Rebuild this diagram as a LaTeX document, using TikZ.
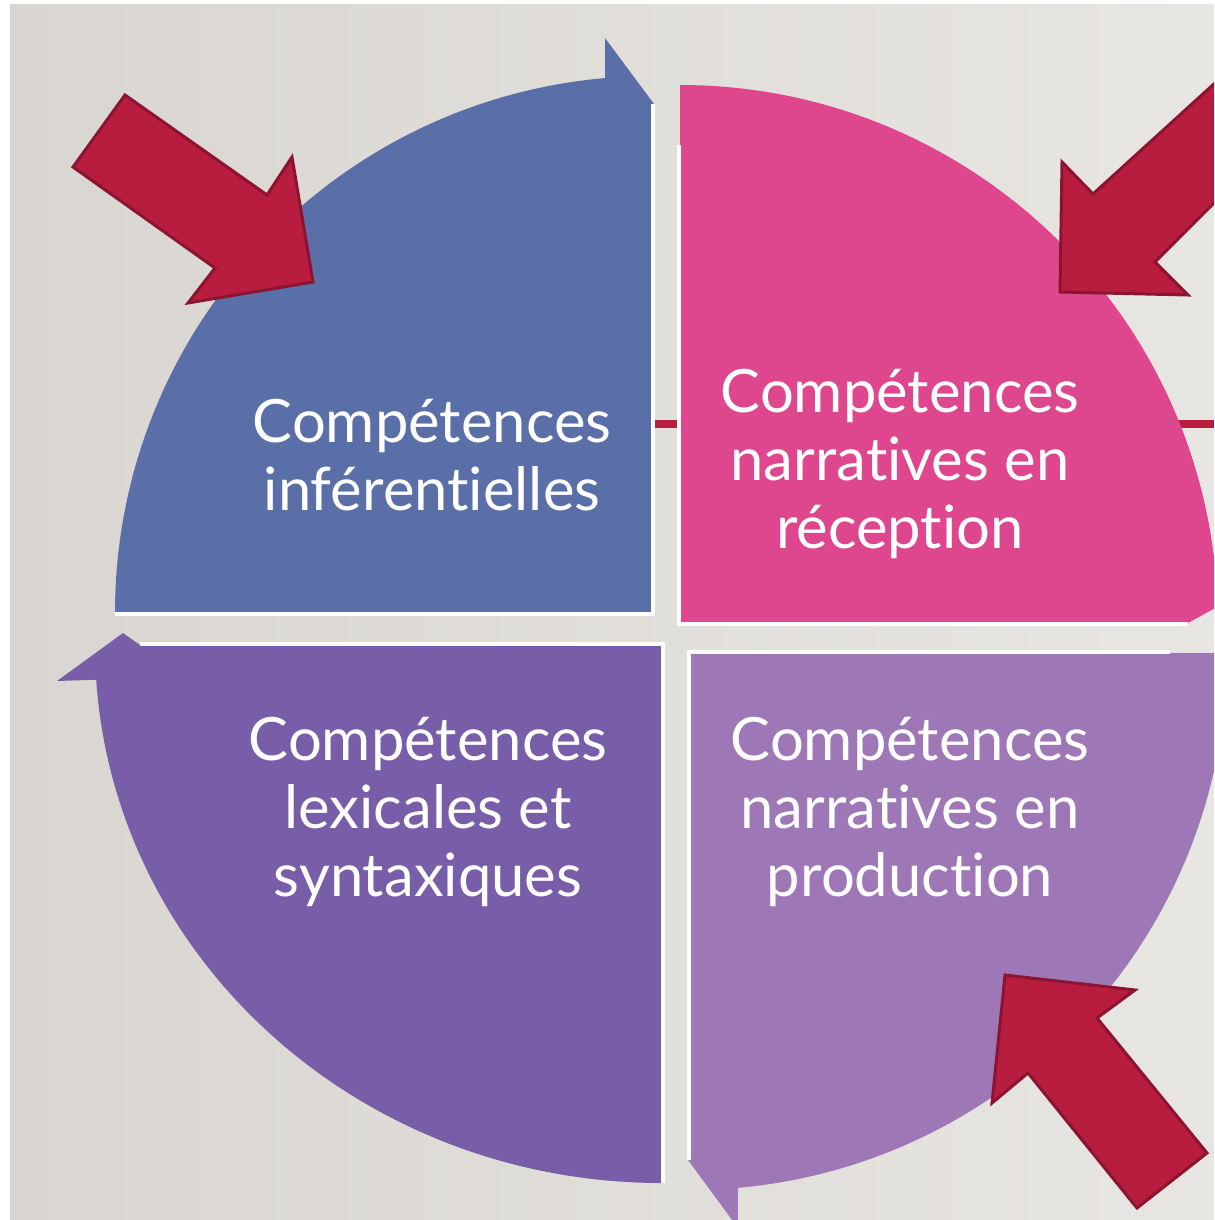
\documentclass[tikz,border=0pt]{standalone}
\usepackage{fontspec}
\setmainfont{Lato}[Ligatures={NoCommon,NoContextual,NoRare}]
\definecolor{quadblue}{HTML}{5A6FA8}
\definecolor{quadpink}{HTML}{DE478D}
\definecolor{quadpurple}{HTML}{785EA8}
\definecolor{quadlav}{HTML}{9E78B6}
\definecolor{arrowred}{HTML}{B81C3F}
\definecolor{arrowdark}{HTML}{8C1431}
\definecolor{bgleft}{HTML}{D9D6D1}
\definecolor{bgright}{HTML}{E8E6E2}
\tikzset{
  quadlabel/.style={text=white, align=center, font=\fontsize{17}{19.4}\selectfont},
  redarrow/.style={fill=arrowred, draw=arrowdark, line width=0.3mm, line join=miter},
  cutedge/.style={draw=white, line width=0.35mm},
}
\begin{document}
\begin{tikzpicture}[x=0.1mm, y=-0.1mm]
    \useasboundingbox (0,0) rectangle (1214,1220);
    \clip (0,0) rectangle (1214,1220);
    \fill[white] (0,0) rectangle (1214,1220);
    \shade[left color=bgleft, right color=bgright] (10,5) rectangle (1214,1220);
    \draw[arrowred, line width=0.8mm] (655,424) -- (1214,424);

    % quarters of the cycle
    \fill[quadblue] (652,613) -- (115,613) arc[start angle=180, end angle=95, radius=53.7mm] -- (605,38) -- (654,104) -- cycle;
    \draw[cutedge] (115,614) -- (653,614) -- (653,104);
    \fill[quadpink] (680,623) -- (680,85) arc[start angle=90, end angle=4, radius=53.8mm] -- (1255,586) -- (1188,623) -- cycle;
    \draw[cutedge] (679,145) -- (679,624) -- (1188,624);
    \fill[quadpurple] (662,645) -- (662,1183) arc[start angle=270, end angle=183.7, x radius=56.7mm, y radius=53.8mm] -- (57,681) -- (123,633) -- (140,645) -- cycle;
    \draw[cutedge] (140,644) -- (663,644) -- (663,1183);
    \fill[quadlav] (690,653) -- (1227,653) arc[start angle=0, end angle=-84.9, radius=53.7mm] -- (738,1228) -- (688,1160) -- cycle;
    \draw[cutedge] (1170,652) -- (689,652) -- (689,1160);

    \node[quadlabel] (inf) at (432,455) {Compétences\\inférentielles};
    \node[quadlabel] (rec) at (900,464) {Compétences\\narratives en\\réception};
    \node[quadlabel] (lex) at (428,812) {Compétences\\lexicales et\\syntaxiques};
    \node[quadlabel] (prod) at (910,812) {Compétences\\narratives en\\production};

    % red arrows
    \draw[redarrow] (125,95) -- (267,195) -- (292,157) -- (313,282) -- (188,303) -- (215,268) -- (73,167) -- cycle;
    \draw[redarrow] (1260,42) -- (1093,194) -- (1062,162) -- (1060,292) -- (1188,295) -- (1155,262) -- (1260,157) -- cycle;
    \draw[redarrow] (1005,975) -- (1135,990) -- (1097,1018) -- (1207,1153) -- (1137,1208) -- (1028,1073) -- (992,1103) -- cycle;
\end{tikzpicture}
\end{document}
